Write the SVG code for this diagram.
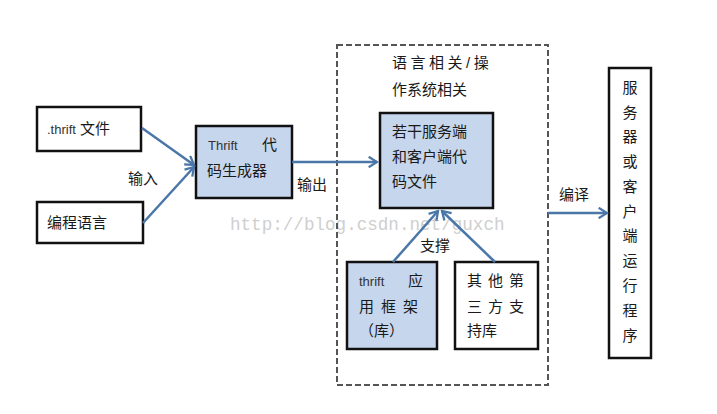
<svg xmlns="http://www.w3.org/2000/svg" width="717" height="414" viewBox="0 0 717 414">
<style>
text{font-family:"Liberation Sans","Noto Sans CJK SC",sans-serif;font-size:15px;fill:#1a1a1a}
.box{stroke:#111;stroke-width:2.5;fill:#fff}
.blue{fill:#c6d6ec}
.arr{stroke:#4a76a8;stroke-width:2.5;fill:none;marker-end:url(#ah)}
.lat{font-size:13px;fill:#333}
.wm{font-family:"Liberation Mono",monospace;font-size:17.6px;fill:#cfcfcf}
</style>
<defs>
<marker id="ah" viewBox="0 0 12 12" refX="10" refY="6" markerWidth="5" markerHeight="5" orient="auto" markerUnits="strokeWidth">
<path d="M2,1 L10,6 L2,11" fill="none" stroke="#4a76a8" stroke-width="2.2"/>
</marker>
</defs>
<rect width="717" height="414" fill="#fff"/>
<text class="wm" x="230" y="230">http://blog.csdn.net/guxch</text>
<g id="container">
<rect x="337" y="45" width="211" height="340" fill="none" stroke="#555" stroke-width="2" stroke-dasharray="6,3"/>
<text x="392" y="68" font-size="16" letter-spacing="3.5">语言相关/操</text>
<text x="392" y="95" font-size="16">作系统相关</text>
</g>
<g id="n-thrift-file">
<rect class="box" x="37" y="107" width="104" height="44"/>
<text x="47" y="134"><tspan class="lat" font-size="14">.thrift</tspan> 文件</text>
</g>
<g id="n-lang">
<rect class="box" x="37" y="202" width="106" height="41"/>
<text x="47" y="228" font-size="16">编程语言</text>
</g>
<g id="n-gen">
<rect class="box blue" x="196" y="126" width="96" height="72"/>
<text class="lat" x="208" y="150">Thrift</text>
<text x="262" y="150">代</text>
<text x="207" y="176" font-size="16">码生成器</text>
</g>
<g id="n-code">
<rect class="box blue" x="380" y="113" width="113" height="95"/>
<text x="392" y="137" font-size="16">若干服务端</text>
<text x="392" y="162" font-size="16">和客户端代</text>
<text x="392" y="187" font-size="16">码文件</text>
</g>
<g id="n-framework">
<rect class="box blue" x="347" y="262" width="90" height="87"/>
<text class="lat" x="359" y="286">thrift</text>
<text x="408" y="286">应</text>
<text x="359" y="312" letter-spacing="7">用框架</text>
<text x="359" y="336">（库）</text>
</g>
<g id="n-third">
<rect class="box" x="455" y="262" width="83" height="87"/>
<text x="467" y="286" letter-spacing="6">其他第</text>
<text x="467" y="312" letter-spacing="6">三方支</text>
<text x="467" y="336">持库</text>
</g>
<g id="n-program">
<rect class="box" x="609" y="68" width="42" height="290"/>
<g text-anchor="middle">
<text x="630" y="93">服</text>
<text x="630" y="118">务</text>
<text x="630" y="142">器</text>
<text x="630" y="167">或</text>
<text x="630" y="192">客</text>
<text x="630" y="217">户</text>
<text x="630" y="241">端</text>
<text x="630" y="266">运</text>
<text x="630" y="291">行</text>
<text x="630" y="316">程</text>
<text x="630" y="341">序</text>
</g>
</g>
<g id="connectors">
<line class="arr" x1="142" y1="128" x2="194" y2="165"/>
<line class="arr" x1="143" y1="223" x2="194" y2="167"/>
<text x="128" y="184">输入</text>
<line class="arr" x1="292" y1="162" x2="377" y2="162"/>
<text x="297" y="190">输出</text>
<line class="arr" x1="393" y1="262" x2="438" y2="211"/>
<line class="arr" x1="495" y1="262" x2="442" y2="211"/>
<text x="420" y="251">支撑</text>
<line class="arr" x1="548" y1="213" x2="607" y2="213"/>
<text x="559" y="200">编译</text>
</g>
</svg>
